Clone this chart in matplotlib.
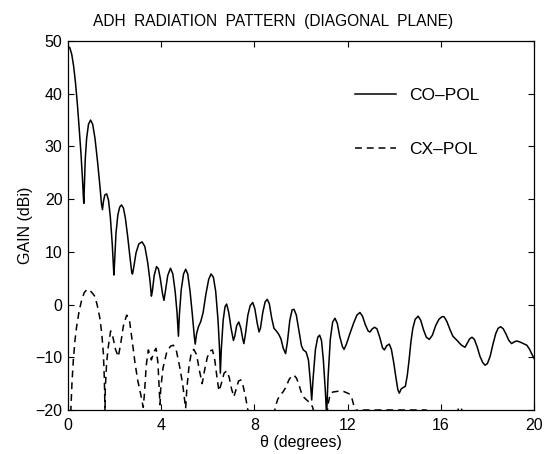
import numpy as np
import matplotlib
matplotlib.use("Agg")
import matplotlib.pyplot as plt

plt.rcParams['font.family'] = ['Liberation Sans', 'DejaVu Sans']

# co-polar gain
co_theta = [0.00, 0.08, 0.16, 0.24, 0.32, 0.40, 0.48, 0.56, 0.62, 0.66, 0.68, 0.70, 0.74, 0.80, 0.88,
            0.97, 1.06, 1.16, 1.26, 1.36, 1.44, 1.48, 1.52, 1.58, 1.66, 1.74, 1.82, 1.90, 1.95, 1.97,
            2.00, 2.06, 2.14, 2.22, 2.30, 2.38, 2.46, 2.56, 2.66, 2.74, 2.77, 2.82, 2.92, 3.04, 3.18,
            3.30, 3.42, 3.52, 3.58, 3.62, 3.70, 3.80, 3.88, 3.96, 4.06, 4.12, 4.18, 4.28, 4.40, 4.50,
            4.60, 4.68, 4.74, 4.78, 4.86, 4.96, 5.05, 5.14, 5.24, 5.34, 5.42, 5.46, 5.52, 5.60, 5.70,
            5.80, 5.92, 6.04, 6.14, 6.24, 6.34, 6.44, 6.50, 6.54, 6.58, 6.66, 6.74, 6.81, 6.90, 7.00,
            7.10, 7.16, 7.24, 7.33, 7.42, 7.50, 7.55, 7.62, 7.72, 7.82, 7.93, 8.02, 8.12, 8.20, 8.26,
            8.36, 8.46, 8.55, 8.64, 8.74, 8.84, 8.94, 9.04, 9.14, 9.24, 9.34, 9.42, 9.52, 9.62, 9.70,
            9.80, 9.92, 10.02, 10.10, 10.22, 10.32, 10.40, 10.46, 10.52, 10.62, 10.72, 10.80, 10.88,
            10.96, 11.04, 11.10, 11.16, 11.26, 11.36, 11.46, 11.56, 11.66, 11.78, 11.85, 11.95, 12.10,
            12.26, 12.40, 12.53, 12.64, 12.76, 12.88, 12.96, 13.06, 13.16, 13.26, 13.38, 13.50, 13.58,
            13.68, 13.79, 13.88, 13.98, 14.08, 14.16, 14.22, 14.30, 14.40, 14.48, 14.56, 14.64, 14.72,
            14.80, 14.90, 15.03, 15.14, 15.26, 15.38, 15.51, 15.64, 15.78, 15.92, 16.05, 16.14, 16.26,
            16.40, 16.52, 16.61, 16.72, 16.82, 16.92, 17.04, 17.14, 17.24, 17.34, 17.44, 17.56, 17.68,
            17.80, 17.90, 18.00, 18.12, 18.24, 18.36, 18.46, 18.57, 18.68, 18.80, 18.92, 19.04, 19.14,
            19.26, 19.40, 19.54, 19.69, 19.80, 19.90, 20.00]
co_gain = [49.0, 48.7, 47.5, 45.3, 42.2, 38.2, 33.5, 28.5, 24.0, 20.5, 19.2, 22.0, 27.5, 31.5, 34.2,
           35.0, 34.2, 31.5, 27.5, 23.0, 19.0, 18.0, 19.5, 20.8, 21.0, 19.8, 16.5, 11.5, 7.5, 5.6,
           8.0, 13.5, 17.0, 18.5, 18.9, 18.3, 16.5, 13.0, 9.0, 6.0, 5.8, 7.0, 9.8, 11.5, 11.9,
           11.0, 8.0, 4.5, 1.6, 2.5, 5.5, 7.2, 6.8, 5.0, 2.0, 0.8, 2.5, 5.5, 6.9, 5.8,
           2.5, -1.5, -6.0, -2.0, 2.8, 5.8, 6.7, 5.8, 2.5, -2.0, -6.0, -7.5, -5.5, -4.2, -3.2,
           -1.5, 2.0, 4.8, 5.8, 5.2, 2.5, -3.0, -8.0, -13.0, -8.5, -3.0, -0.4, 0.1, -1.5, -4.5,
           -6.8, -6.0, -4.0, -3.3, -4.5, -6.5, -7.4, -5.5, -2.0, -0.2, 0.4, -0.8, -3.5, -5.2, -4.5,
           -1.5, 0.5, 1.0, 0.2, -2.5, -4.5, -5.0, -5.6, -6.5, -8.3, -9.3, -7.0, -3.0, -1.0, -0.9,
           -2.0, -5.2, -7.8, -8.6, -9.0, -10.5, -14.5, -18.1, -14.0, -8.5, -6.2, -5.8, -6.8,
           -10.5, -16.0, -21.0, -14.0, -6.5, -3.3, -2.6, -3.6, -6.0, -8.0, -8.5, -7.5, -5.5,
           -3.5, -2.0, -1.5, -2.2, -3.8, -5.0, -5.2, -4.6, -4.3, -4.6, -6.2, -8.2, -8.6,
           -7.8, -7.5, -8.5, -11.0, -14.0, -16.2, -16.8, -16.0, -15.7, -15.5, -13.5, -10.5, -7.0,
           -4.5, -2.8, -2.2, -3.0, -4.8, -6.2, -6.6, -5.8, -4.0, -2.8, -2.3, -2.3, -3.2,
           -4.8, -6.0, -6.4, -6.9, -7.4, -7.8, -8.1, -7.3, -6.5, -6.2, -6.6, -8.0, -9.8,
           -11.0, -11.5, -11.2, -9.8, -7.5, -5.5, -4.5, -4.2, -4.6, -5.6, -6.8, -7.4, -7.1,
           -6.9, -7.1, -7.4, -7.7, -8.4, -9.3, -10.2]

# cross-polar gain (NaN = below the plot floor)
cx_theta = [0.12, 0.17, 0.23, 0.30, 0.37, 0.48, 0.59, 0.70, 0.83, 0.96, 1.08, 1.16, 1.26, 1.37, 1.45,
            1.52, 1.56, 1.59, 1.60, 1.66, 1.73, 1.83, 1.92, 2.04, 2.16, 2.26, 2.38, 2.52, 2.64, 2.76,
            2.88, 3.00, 3.12, 3.23, 3.28, 3.36, 3.45, 3.58, 3.68, 3.78, 3.86, 3.95, 3.98, 4.08, 4.24,
            4.40, 4.52, 4.64, 4.78, 4.92, 5.05, 5.10, 5.20, 5.30, 5.40, 5.52, 5.64, 5.76, 5.86, 5.98,
            6.10, 6.20, 6.30, 6.40, 6.48, 6.58, 6.70, 6.81, 6.92, 7.02, 7.12, 7.22, 7.32, 7.42, 7.52,
            7.62, 7.70, 7.76, 8.30, 8.84, 8.90, 9.00, 9.10, 9.24, 9.36, 9.48, 9.60, 9.70, 9.80, 9.90,
            10.00, 10.10, 10.22, 10.32, 10.42, 10.50, 10.56, 10.80, 11.12, 11.16, 11.24, 11.36, 11.50,
            11.67, 11.84, 12.00, 12.10, 12.20, 12.28, 12.34, 12.40, 12.50, 13.50, 14.50, 15.40,
            15.50, 16.00, 16.70, 16.76, 16.82, 16.88, 16.95]
cx_gain = [-20.5, -15.0, -10.5, -6.8, -4.2, -1.2, 0.9, 2.3, 2.9, 2.6, 2.0, 1.5, -0.2, -2.6, -5.5,
           -9.3, -14.0, -20.5, -16.0, -11.0, -8.0, -5.0, -6.0, -8.5, -9.9, -7.5, -4.0, -2.0, -3.0, -7.0,
           -11.2, -14.5, -17.0, -19.5, -17.0, -11.5, -8.6, -10.5, -9.0, -8.3, -11.0, -19.0, -16.0, -12.0, -9.0,
           -7.9, -7.7, -8.5, -11.5, -15.0, -19.7, -16.0, -11.5, -9.0, -8.5, -9.5, -12.5, -15.0, -12.5, -10.0,
           -8.8, -8.6, -10.5, -14.0, -16.4, -15.0, -13.0, -12.6, -13.8, -16.0, -17.5, -16.0, -14.5, -14.3, -15.5,
           -17.5, -19.5, -21.0, np.nan, -21.0, -19.4, -18.0, -17.2, -16.5, -15.6, -14.3, -13.5, -13.4, -13.9, -15.0,
           -16.5, -17.5, -18.0, -18.4, -18.7, -19.5, -20.5, np.nan, -21.0, -19.0, -17.2, -16.6, -16.5,
           -16.4, -16.5, -16.8, -17.0, -18.0, -19.4, -20.5, -20.0, -20.0, -20.0, -20.0, -20.0,
           np.nan, np.nan, -21.0, -19.6, -19.4, -19.6, -21.0]

x_ticks = [0, 4, 8, 12, 16, 20]
y_ticks = [-20, -10, 0, 10, 20, 30, 40, 50]

fig = plt.figure(figsize=(5.46, 4.54), dpi=100)
ax = fig.add_axes([0.1245, 0.0969, 0.8535, 0.8128])

ax.plot(co_theta, co_gain, color='black', lw=1.1, label='CO–POL')
ax.plot(cx_theta, cx_gain, color='black', lw=1.1, linestyle=(0, (4.5, 3.2)), label='CX–POL')

ax.set_xlim(0, 20)
ax.set_ylim(-20, 50)
ax.set_xticks(x_ticks)
ax.set_yticks(y_ticks)
ax.tick_params(direction='in', top=True, right=True, length=4, width=0.8,
               labelsize=11.5)
ax.tick_params(axis='x', pad=6)
ax.tick_params(axis='y', pad=4)
for s in ax.spines.values():
    s.set_linewidth(0.9)

# title sits centred on the figure, not the axes
fig.text(0.5, 0.953, 'ADH  RADIATION  PATTERN  (DIAGONAL  PLANE)', fontsize=11.2,
         ha='center', va='center')
ax.set_xlabel('θ (degrees)', fontsize=11.5, labelpad=1)
ax.set_ylabel('GAIN (dBi)', fontsize=11.5, labelpad=2)

ax.legend(loc='upper left', bbox_to_anchor=(0.615, 0.874), frameon=False,
          fontsize=12.5, handlelength=2.4, handletextpad=0.75, labelspacing=2.25,
          borderpad=0, borderaxespad=0)

fig.savefig('out.png', dpi=100)
